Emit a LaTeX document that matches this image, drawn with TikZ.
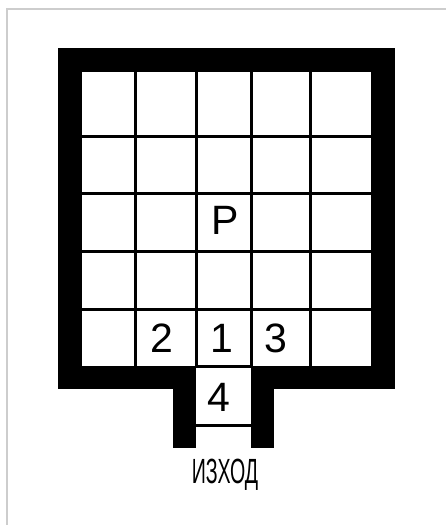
\documentclass[tikz,border=0pt]{standalone}
\usepackage{fontspec}
\setmainfont{Liberation Sans}
\newfontfamily\narrowfont[FakeStretch=0.56]{Liberation Sans}
\usetikzlibrary{positioning}
\definecolor{framegray}{RGB}{205,205,205}

\begin{document}
\begin{tikzpicture}[x=0.5pt,y=-0.5pt, every node/.style={font=\fontsize{20.5}{21}\selectfont}]
\tikzstyle{wall}=[fill=black]
\tikzstyle{gridline}=[line width=1.5pt, line cap=rect]
\tikzstyle{num}=[inner sep=0pt]
\useasboundingbox (0,0) rectangle (446,525);
% page frame
\draw[framegray, line width=0.6pt] (7,525) -- (7,9) -- (446,9);
% walls
\fill[wall] (58,48) rectangle (395,72);
\fill[wall] (58,48) rectangle (82,389);
\fill[wall] (371,48) rectangle (395,389);
\fill[wall] (58,366) rectangle (196,389);
\fill[wall] (251,366) rectangle (395,389);
\fill[wall] (173,366) rectangle (196,448);
\fill[wall] (251,366) rectangle (274,448);
% grid
\foreach \x in {135,196,251,310} \draw[gridline] (\x,72) -- (\x,366);
\foreach \y in {136,193,251,309} \draw[gridline] (82,\y) -- (371,\y);
\draw[gridline] (196,366) -- (251,366);
\draw[gridline] (196,425) -- (251,425);
% labels
\node[num] (park) at (225,220) {P};
\node[num] (one) at (222,338) {1};
\node[num] (two) at (162,338) {2};
\node[num] (three) at (276,338) {3};
\node[num] (four) at (219,397) {4};
\node[num, font=\narrowfont\fontsize{17.5}{18}\selectfont] (exit) at (225,475) {ИЗХОД};
\end{tikzpicture}
\end{document}
